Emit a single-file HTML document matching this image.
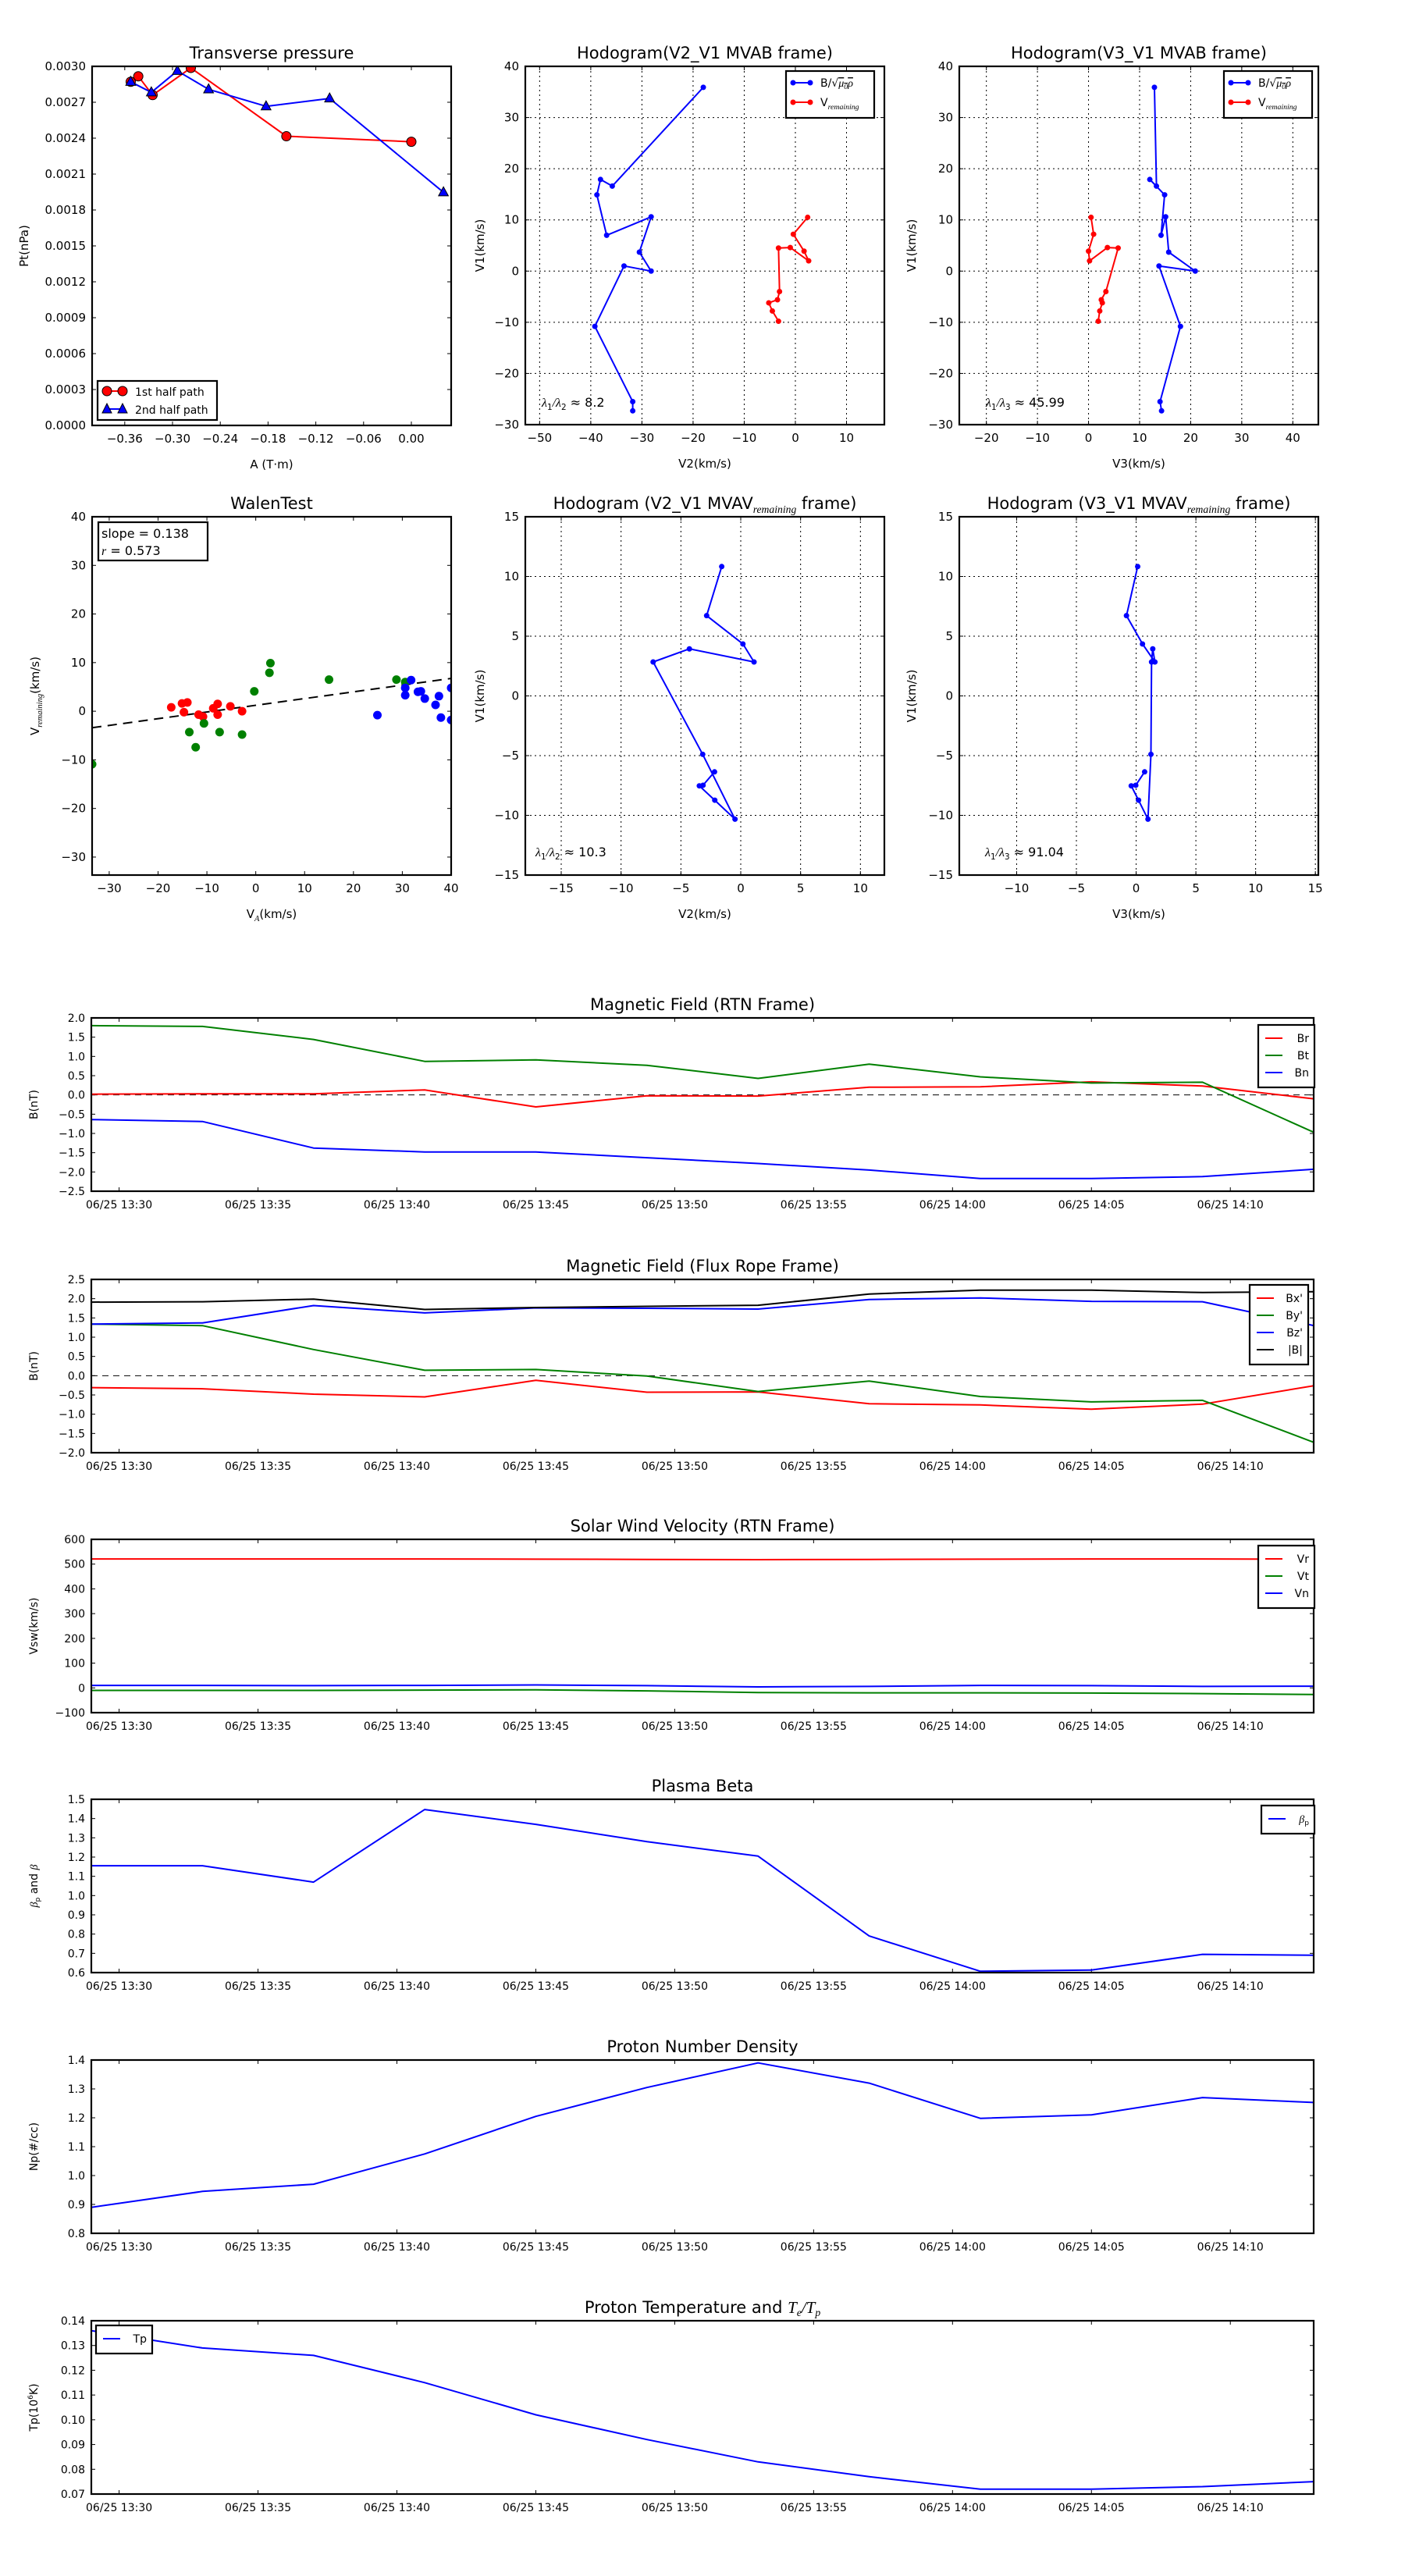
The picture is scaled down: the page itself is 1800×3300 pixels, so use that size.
<!DOCTYPE html>
<html><head><meta charset="utf-8"><title>Flux rope analysis</title>
<style>
html,body{margin:0;padding:0;background:#fff;}
svg{display:block;font-family:"DejaVu Sans","Liberation Sans",sans-serif;}
</style></head>
<body>
<svg id="fig" width="1800" height="3300" viewBox="0 0 1800 3300" xmlns="http://www.w3.org/2000/svg">
<rect x="0" y="0" width="1800" height="3300" fill="#fff"/>
</svg>
<script>
// ---------- DATA ----------
const tpA1 = [-0.3525,-0.343,-0.325,-0.277,-0.157,0.0];
const tpP1 = [0.002871,0.002917,0.00276,0.002987,0.002416,0.00237];
const tpA2 = [-0.3525,-0.3266,-0.2939,-0.2547,-0.1825,-0.1027,0.0403];
const tpP2 = [0.002871,0.002783,0.002962,0.002808,0.002666,0.002732,0.001948];

const hbV1 = [35.9,16.6,17.9,14.9,7.0,10.6,3.7,0.0,1.0,-10.8,-25.5,-27.3];
const hbV2 = [-18.0,-35.8,-38.1,-38.8,-36.9,-28.2,-30.5,-28.2,-33.5,-39.2,-31.8,-31.8];
const hbV3 = [12.9,13.3,12.0,14.9,14.2,15.1,15.7,20.9,13.8,18.0,14.0,14.3];
const hvV1 = [10.5,7.2,3.9,2.0,4.6,4.5,-4.0,-5.6,-6.2,-7.8,-9.8];
const hvV2 = [2.4,-0.4,1.7,2.6,-1.0,-3.3,-3.1,-3.5,-5.2,-4.5,-3.3];
const hvV3 = [0.5,1.0,0.0,0.2,3.7,5.8,3.4,2.5,2.7,2.2,1.9];

const mvV1 = [10.83,6.72,4.35,2.84,3.94,2.84,-4.89,-10.32,-8.73,-7.53,-7.48,-6.36];
const mvV2 = [-1.59,-2.85,0.18,1.11,-4.29,-7.32,-3.18,-0.48,-2.17,-3.46,-3.15,-2.19];
const mvV3 = [0.13,-0.81,0.53,1.57,1.39,1.29,1.24,0.99,0.2,-0.41,-0.03,0.71];

const wRedX = [-17.3,-15.1,-14.0,-14.7,-11.7,-10.8,-8.7,-7.8,-7.8,-5.2,-2.8];
const wRedY = [0.8,1.6,1.8,-0.2,-0.7,-1.1,0.6,1.5,-0.7,1.0,0.0];
const wGreenX = [-33.5,-13.6,-12.3,-10.6,-7.4,-2.8,-0.3,2.8,3.0,15.0,28.8,30.6];
const wGreenY = [-10.9,-4.3,-7.4,-2.5,-4.3,-4.8,4.1,7.9,9.9,6.5,6.5,6.0];
const wBlueX = [24.9,30.6,30.6,31.8,33.2,33.8,34.6,36.8,37.5,37.9,40.0,40.0];
const wBlueY = [-0.8,4.8,3.3,6.4,4.0,4.1,2.6,1.3,3.1,-1.3,4.8,-1.8];
const wSlope = 0.138;
const wIntercept = 1.22;

const timeMin = [0,4,8,12,16,20,24,28,32,36,40,44]; // minutes after 13:29
const timeTickMin = [1,6,11,16,21,26,31,36,41];
const timeTickLabels = ["06/25 13:30","06/25 13:35","06/25 13:40","06/25 13:45","06/25 13:50","06/25 13:55","06/25 14:00","06/25 14:05","06/25 14:10"];

const Br = [0.02,0.03,0.03,0.13,-0.31,-0.02,-0.03,0.2,0.21,0.34,0.23,-0.1];
const Bt = [1.8,1.78,1.44,0.87,0.91,0.77,0.43,0.8,0.47,0.31,0.33,-0.97];
const Bn = [-0.64,-0.69,-1.38,-1.48,-1.48,-1.63,-1.78,-1.95,-2.17,-2.17,-2.12,-1.93];

const Bx1 = [-0.31,-0.34,-0.48,-0.55,-0.12,-0.43,-0.42,-0.73,-0.76,-0.87,-0.74,-0.26];
const By1 = [1.34,1.3,0.68,0.14,0.16,-0.01,-0.41,-0.14,-0.54,-0.68,-0.64,-1.73];
const Bz1 = [1.34,1.37,1.82,1.63,1.76,1.75,1.73,1.98,2.02,1.93,1.92,1.30];
const Bmag = [1.91,1.92,1.99,1.72,1.77,1.80,1.83,2.12,2.22,2.22,2.16,2.18];

const Vr = [521,521,521,521,520,519,518,519,520,521,521,520];
const Vt = [-10,-10,-10,-9,-8,-12,-19,-20,-20,-21,-23,-27];
const Vn = [10,10,9,10,12,9,4,6,10,9,6,7];

const betaP = [1.155,1.155,1.07,1.447,1.37,1.28,1.205,0.79,0.607,0.613,0.695,0.690];
const Np = [0.89,0.945,0.97,1.075,1.205,1.305,1.39,1.32,1.198,1.21,1.27,1.253];
const Tp = [0.136,0.129,0.126,0.115,0.102,0.092,0.083,0.077,0.072,0.072,0.073,0.075];

// ---------- HELPERS ----------
const NS = 'http://www.w3.org/2000/svg';
const fig = document.getElementById('fig');
function mk(tag, attrs, parent){
  const e = document.createElementNS(NS, tag);
  for (const k in attrs) e.setAttribute(k, attrs[k]);
  (parent || fig).appendChild(e);
  return e;
}
function fmtNum(v, d){ const s = Math.abs(v).toFixed(d); return (v < -1e-12 ? '\u2212' : '') + s; }
function range(a, b, s){ const r=[]; for(let v=a; v<=b+s*1e-6; v+=s) r.push(+v.toFixed(10)); return r; }

function makeAxes(c){
  const g = mk('g', {});
  
  
  const sx = v => c.x + (v - c.xmin) / (c.xmax - c.xmin) * c.w;
  const sy = v => c.y + c.h - (v - c.ymin) / (c.ymax - c.ymin) * c.h;
  const fs = c.fs || 15;
  // grid
  if (c.grid){
    c.xticks.forEach(t => {
      const l = mk('line', {x1:sx(t), x2:sx(t), y1:c.y, y2:c.y+c.h, stroke:'#000', 'stroke-width':1, 'stroke-dasharray':'2,4'}, g);
      
      
    });
    c.yticks.forEach(t => {
      const l = mk('line', {x1:c.x, x2:c.x+c.w, y1:sy(t), y2:sy(t), stroke:'#000', 'stroke-width':1, 'stroke-dasharray':'2,4'}, g);
      
      
    });
  }
  // ticks
  c.xticks.forEach((t, i) => {
    const X = sx(t);
    mk('line', {x1:X, x2:X, y1:c.y+c.h, y2:c.y+c.h-5, stroke:'#000', 'stroke-width':1}, g);
    mk('line', {x1:X, x2:X, y1:c.y, y2:c.y+5, stroke:'#000', 'stroke-width':1}, g);
    const tx = mk('text', {x:X, y:c.y+c.h+22, 'text-anchor':'middle', 'font-size':fs}, g);
    tx.textContent = c.xlabels[i];
    
    
  });
  c.yticks.forEach((t, i) => {
    const Y = sy(t);
    mk('line', {x1:c.x, x2:c.x+5, y1:Y, y2:Y, stroke:'#000', 'stroke-width':1}, g);
    mk('line', {x1:c.x+c.w, x2:c.x+c.w-5, y1:Y, y2:Y, stroke:'#000', 'stroke-width':1}, g);
    const tx = mk('text', {x:c.x-8, y:Y+5, 'text-anchor':'end', 'font-size':fs}, g);
    tx.textContent = c.ylabels[i];
    
    
  });
  // clip
  const cid = 'clip-' + c.name;
  const cp = mk('clipPath', {id:cid}, g);
  mk('rect', {x:c.x, y:c.y, width:c.w, height:c.h}, cp);
  const plot = mk('g', {'clip-path':'url(#'+cid+')'}, g);
  
  
  // title
  if (c.title){
    const t = mk('text', {x:c.x+c.w/2, y:c.y-10, 'text-anchor':'middle', 'font-size':c.tfs||21}, g);
    t.innerHTML = c.title;
    
    
  }
  if (c.xlabel){
    const t = mk('text', {x:c.x+c.w/2, y:c.y+c.h+55, 'text-anchor':'middle', 'font-size':fs}, g);
    t.innerHTML = c.xlabel;
    
    
  }
  if (c.ylabel){
    const yx = c.ylx, yy = c.y + c.h/2;
    const t = mk('text', {x:yx, y:yy, 'text-anchor':'middle', 'font-size':c.ylfs||fs, transform:'rotate(-90 '+yx+' '+yy+')'}, g);
    t.innerHTML = c.ylabel;
    
    
  }
  return {g, plot, sx, sy, c};
}
function frame(ax){
  const r = mk('rect', {x:ax.c.x, y:ax.c.y, width:ax.c.w, height:ax.c.h, fill:'none', stroke:'#000', 'stroke-width':2.2}, ax.g);
  
  
}
function line(ax, xs, ys, color, name, width){
  const pts = xs.map((x, i) => ax.sx(x).toFixed(1) + ',' + ax.sy(ys[i]).toFixed(1)).join(' ');
  const p = mk('polyline', {points:pts, fill:'none', stroke:color, 'stroke-width':width||2, 'stroke-linejoin':'round'}, ax.plot);
  
  
  return p;
}
function dots(ax, xs, ys, color, r, name, edge){
  xs.forEach((x, i) => {
    const d = mk('circle', {cx:ax.sx(x), cy:ax.sy(ys[i]), r:r, fill:color, stroke:edge||'none', 'stroke-width':1}, ax.plot);
    
    
  });
}
function tris(ax, xs, ys, color, s, name){
  xs.forEach((x, i) => {
    const X = ax.sx(x), Y = ax.sy(ys[i]);
    const d = mk('polygon', {points:`${X},${Y-s} ${X-s*0.9},${Y+s*0.65} ${X+s*0.9},${Y+s*0.65}`, fill:color, stroke:'#000', 'stroke-width':1}, ax.plot);
    
    
  });
}
function legendBox(x, y, w, h, name){
  const g = mk('g', {});
  
  
  mk('rect', {x:x, y:y, width:w, height:h, fill:'#fff', stroke:'#000', 'stroke-width':2.2}, g);
  return g;
}
const SUB = (t) => `<tspan font-family="Liberation Serif, DejaVu Serif, serif" font-style="italic" font-size="0.65em" dy="5">${t}</tspan><tspan dy="-5"> </tspan>`;

// ---------- TRANSVERSE PRESSURE ----------
(function(){
  const xt = range(-0.36, 0.0, 0.06), yt = range(0, 0.003, 0.0003);
  const ax = makeAxes({name:'transverse-pressure-chart', x:118, y:85, w:460, h:460, xmin:-0.401, xmax:0.05, ymin:0, ymax:0.003,
    xticks:xt, xlabels:xt.map(v=>fmtNum(v,2)), yticks:yt, ylabels:yt.map(v=>fmtNum(v,4)),
    title:'Transverse pressure', xlabel:'A (T·m)', ylabel:'Pt(nPa)', ylx:36, ylfs:15});
  line(ax, tpA1, tpP1, '#ff0000', 'first-half-path-line');
  line(ax, tpA2, tpP2, '#0000ff', 'second-half-path-line');
  dots(ax, tpA1, tpP1, '#ff0000', 6, 'first-half-point', '#000');
  tris(ax, tpA2, tpP2, '#0000ff', 7, 'second-half-point');
  frame(ax);
  const lg = legendBox(125, 488, 153, 50, 'legend');
  mk('line', {x1:137, x2:157, y1:501, y2:501, stroke:'#ff0000', 'stroke-width':2}, lg);
  mk('circle', {cx:137, cy:501, r:6, fill:'#ff0000', stroke:'#000'}, lg);
  mk('circle', {cx:157, cy:501, r:6, fill:'#ff0000', stroke:'#000'}, lg);
  let t = mk('text', {x:173, y:507, 'font-size':14}, lg); t.textContent = '1st half path';
  
  
  mk('line', {x1:137, x2:157, y1:524, y2:524, stroke:'#0000ff', 'stroke-width':2}, lg);
  mk('polygon', {points:'137,517 131,529 143,529', fill:'#0000ff', stroke:'#000'}, lg);
  mk('polygon', {points:'157,517 151,529 163,529', fill:'#0000ff', stroke:'#000'}, lg);
  t = mk('text', {x:173, y:530, 'font-size':14}, lg); t.textContent = '2nd half path';
  
  
})();

// ---------- HODOGRAM HELPERS ----------
function hodoLegend(x, y, name){
  const lg = legendBox(x, y, 113, 60, name);
  mk('line', {x1:x+9, x2:x+31, y1:y+15, y2:y+15, stroke:'#0000ff', 'stroke-width':2}, lg);
  mk('circle', {cx:x+9, cy:y+15, r:3.5, fill:'#0000ff'}, lg);
  mk('circle', {cx:x+31, cy:y+15, r:3.5, fill:'#0000ff'}, lg);
  let t = mk('text', {x:x+44, y:y+20, 'font-size':14}, lg);
  t.innerHTML = 'B/√<tspan font-family="Liberation Serif, serif" font-style="italic" text-decoration="overline">μ<tspan font-size="0.7em" dy="3">0</tspan><tspan dy="-3">ρ</tspan></tspan>';
  
  
  mk('line', {x1:x+9, x2:x+31, y1:y+40, y2:y+40, stroke:'#ff0000', 'stroke-width':2}, lg);
  mk('circle', {cx:x+9, cy:y+40, r:3.5, fill:'#ff0000'}, lg);
  mk('circle', {cx:x+31, cy:y+40, r:3.5, fill:'#ff0000'}, lg);
  t = mk('text', {x:x+44, y:y+45, 'font-size':14}, lg);
  t.innerHTML = 'V<tspan font-family="Liberation Serif, serif" font-style="italic" font-size="0.7em" dy="4">remaining</tspan>';
  
  
}
function lambdaText(ax, x, y, sub, val){
  const t = mk('text', {x:x, y:y, 'font-size':16}, ax.g);
  t.innerHTML = `<tspan font-family="Liberation Serif, serif" font-style="italic">λ</tspan><tspan font-size="0.65em" dy="4">1</tspan><tspan dy="-4" font-family="Liberation Serif, serif" font-style="italic">/λ</tspan><tspan font-size="0.65em" dy="4">${sub}</tspan><tspan dy="-4"> ≈ ${val}</tspan>`;
  
  
}

// Hodogram V2-V1 MVAB
(function(){
  const xt = range(-50, 10, 10), yt = range(-30, 40, 10);
  const ax = makeAxes({name:'hodogram-v2-v1-mvab', x:673, y:85, w:460, h:459, xmin:-52.8, xmax:17.4, ymin:-30, ymax:40, grid:true,
    xticks:xt, xlabels:xt.map(v=>fmtNum(v,0)), yticks:yt, ylabels:yt.map(v=>fmtNum(v,0)),
    title:'Hodogram(V2_V1 MVAB frame)', xlabel:'V2(km/s)', ylabel:'V1(km/s)', ylx:620});
  line(ax, hbV2, hbV1, '#0000ff', 'b-hodogram-line');
  dots(ax, hbV2, hbV1, '#0000ff', 3.5, 'b-hodogram-point');
  line(ax, hvV2, hvV1, '#ff0000', 'v-hodogram-line');
  dots(ax, hvV2, hvV1, '#ff0000', 3.5, 'v-hodogram-point');
  frame(ax);
  hodoLegend(1007, 91, 'legend');
  lambdaText(ax, 694, 521, '2', '8.2');
})();
// Hodogram V3-V1 MVAB
(function(){
  const xt = range(-20, 40, 10), yt = range(-30, 40, 10);
  const ax = makeAxes({name:'hodogram-v3-v1-mvab', x:1229, y:85, w:460, h:459, xmin:-25.3, xmax:45.0, ymin:-30, ymax:40, grid:true,
    xticks:xt, xlabels:xt.map(v=>fmtNum(v,0)), yticks:yt, ylabels:yt.map(v=>fmtNum(v,0)),
    title:'Hodogram(V3_V1 MVAB frame)', xlabel:'V3(km/s)', ylabel:'V1(km/s)', ylx:1173});
  line(ax, hbV3, hbV1, '#0000ff', 'b-hodogram-line');
  dots(ax, hbV3, hbV1, '#0000ff', 3.5, 'b-hodogram-point');
  line(ax, hvV3, hvV1, '#ff0000', 'v-hodogram-line');
  dots(ax, hvV3, hvV1, '#ff0000', 3.5, 'v-hodogram-point');
  frame(ax);
  hodoLegend(1568, 91, 'legend');
  lambdaText(ax, 1263, 521, '3', '45.99');
})();

// ---------- WALEN TEST ----------
(function(){
  const xt = range(-30, 40, 10), yt = range(-30, 40, 10);
  const ax = makeAxes({name:'walen-test-chart', x:118, y:662, w:460, h:459, xmin:-33.5, xmax:40, ymin:-33.7, ymax:40,
    xticks:xt, xlabels:xt.map(v=>fmtNum(v,0)), yticks:yt, ylabels:yt.map(v=>fmtNum(v,0)),
    title:'WalenTest', xlabel:'V<tspan font-family="Liberation Serif, serif" font-style="italic" font-size="0.7em" dy="4">A</tspan><tspan dy="-4">(km/s)</tspan>',
    ylabel:'V<tspan font-family="Liberation Serif, serif" font-style="italic" font-size="0.7em" dy="4">remaining</tspan><tspan dy="-4">(km/s)</tspan>', ylx:50});
  const fx = [-33.5, 40];
  const fl = line(ax, fx, fx.map(v => wSlope*v + wIntercept), '#000', 'fit-line', 2);
  fl.setAttribute('stroke-dasharray', '12,8');
  dots(ax, wRedX, wRedY, '#ff0000', 5.5, 'walen-point-red');
  dots(ax, wGreenX, wGreenY, '#008000', 5.5, 'walen-point-green');
  dots(ax, wBlueX, wBlueY, '#0000ff', 5.5, 'walen-point-blue');
  frame(ax);
  const lg = legendBox(126, 669, 140, 49, 'fit-stats-box');
  let t = mk('text', {x:130, y:689, 'font-size':16}, lg); t.textContent = 'slope = ' + wSlope.toFixed(3);
  
  
  t = mk('text', {x:130, y:711, 'font-size':16}, lg);
  t.innerHTML = '<tspan font-family="Liberation Serif, serif" font-style="italic">r</tspan> = 0.573';
  
  
})();

// Hodogram V2-V1 MVAV
(function(){
  const xt = range(-15, 10, 5), yt = range(-15, 15, 5);
  const ax = makeAxes({name:'hodogram-v2-v1-mvav', x:673, y:662, w:460, h:459, xmin:-18, xmax:12, ymin:-15, ymax:15, grid:true,
    xticks:xt, xlabels:xt.map(v=>fmtNum(v,0)), yticks:yt, ylabels:yt.map(v=>fmtNum(v,0)),
    title:'Hodogram (V2_V1 MVAV'+SUB('remaining')+'frame)', xlabel:'V2(km/s)', ylabel:'V1(km/s)', ylx:620});
  line(ax, mvV2, mvV1, '#0000ff', 'hodogram-line');
  dots(ax, mvV2, mvV1, '#0000ff', 3.5, 'hodogram-point');
  frame(ax);
  lambdaText(ax, 686, 1097, '2', '10.3');
})();
// Hodogram V3-V1 MVAV
(function(){
  const xt = range(-10, 15, 5), yt = range(-15, 15, 5);
  const ax = makeAxes({name:'hodogram-v3-v1-mvav', x:1229, y:662, w:460, h:459, xmin:-14.8, xmax:15.25, ymin:-15, ymax:15, grid:true,
    xticks:xt, xlabels:xt.map(v=>fmtNum(v,0)), yticks:yt, ylabels:yt.map(v=>fmtNum(v,0)),
    title:'Hodogram (V3_V1 MVAV'+SUB('remaining')+'frame)', xlabel:'V3(km/s)', ylabel:'V1(km/s)', ylx:1173});
  line(ax, mvV3, mvV1, '#0000ff', 'hodogram-line');
  dots(ax, mvV3, mvV1, '#0000ff', 3.5, 'hodogram-point');
  frame(ax);
  lambdaText(ax, 1262, 1097, '3', '91.04');
})();

// ---------- TIME SERIES ----------
function tsAxes(name, top, ymin, ymax, ystep, dec, title, ylabel){
  const yt = range(ymin, ymax, ystep);
  return makeAxes({name:name, x:117, y:top, w:1566, h:222, xmin:0, xmax:44, ymin:ymin, ymax:ymax,
    xticks:timeTickMin, xlabels:timeTickLabels, yticks:yt, ylabels:yt.map(v=>fmtNum(v,dec)),
    title:title, ylabel:ylabel, ylx:48, fs:14, ylfs:14, tfs:21});
}
function tsLegend(x, y, w, entries, name){
  const lg = legendBox(x, y, w, 14 + entries.length*22, name);
  entries.forEach((e, i) => {
    const yy = y + 17 + i*22;
    mk('line', {x1:x+9, x2:x+31, y1:yy, y2:yy, stroke:e[1], 'stroke-width':2}, lg);
    const t = mk('text', {x:x+w-7, y:yy+5, 'text-anchor':'end', 'font-size':14}, lg);
    t.innerHTML = e[0];
    
    
  });
}
function zeroLine(ax){
  const l = mk('line', {x1:ax.sx(0), x2:ax.sx(44), y1:ax.sy(0), y2:ax.sy(0), stroke:'#000', 'stroke-width':1, 'stroke-dasharray':'8,6'}, ax.plot);
  
  
}

(function(){
  const ax = tsAxes('magnetic-field-rtn-chart', 1304, -2.5, 2.0, 0.5, 1, 'Magnetic Field (RTN Frame)', 'B(nT)');
  zeroLine(ax);
  line(ax, timeMin, Br, '#ff0000', 'br-line');
  line(ax, timeMin, Bt, '#008000', 'bt-line');
  line(ax, timeMin, Bn, '#0000ff', 'bn-line');
  frame(ax);
  tsLegend(1612, 1313, 72, [['Br','#ff0000'],['Bt','#008000'],['Bn','#0000ff']], 'legend');
})();
(function(){
  const ax = tsAxes('magnetic-field-flux-rope-chart', 1639, -2.0, 2.5, 0.5, 1, 'Magnetic Field (Flux Rope Frame)', 'B(nT)');
  zeroLine(ax);
  line(ax, timeMin, Bx1, '#ff0000', 'bx-line');
  line(ax, timeMin, By1, '#008000', 'by-line');
  line(ax, timeMin, Bz1, '#0000ff', 'bz-line');
  line(ax, timeMin, Bmag, '#000000', 'b-magnitude-line');
  frame(ax);
  tsLegend(1601, 1646, 75, [["Bx'",'#ff0000'],["By'",'#008000'],["Bz'",'#0000ff'],['|B|','#000']], 'legend');
})();
(function(){
  const ax = tsAxes('solar-wind-velocity-chart', 1972, -100, 600, 100, 0, 'Solar Wind Velocity (RTN Frame)', 'Vsw(km/s)');
  line(ax, timeMin, Vr, '#ff0000', 'vr-line');
  line(ax, timeMin, Vt, '#008000', 'vt-line');
  line(ax, timeMin, Vn, '#0000ff', 'vn-line');
  frame(ax);
  tsLegend(1612, 1980, 72, [['Vr','#ff0000'],['Vt','#008000'],['Vn','#0000ff']], 'legend');
})();
(function(){
  const ax = tsAxes('plasma-beta-chart', 2305, 0.6, 1.5, 0.1, 1, 'Plasma Beta',
    '<tspan font-family="Liberation Serif, serif" font-style="italic">β</tspan><tspan font-size="0.65em" dy="3">p</tspan><tspan dy="-3"> and </tspan><tspan font-family="Liberation Serif, serif" font-style="italic">β</tspan>');
  line(ax, timeMin, betaP, '#0000ff', 'beta-p-line');
  frame(ax);
  tsLegend(1616, 2313, 68, [['<tspan font-family="Liberation Serif, serif" font-style="italic">β</tspan><tspan font-size="0.65em" dy="3">p</tspan>','#0000ff']], 'legend');
})();
(function(){
  const ax = tsAxes('proton-density-chart', 2639, 0.8, 1.4, 0.1, 1, 'Proton Number Density', 'Np(#/cc)');
  line(ax, timeMin, Np, '#0000ff', 'np-line');
  frame(ax);
})();
(function(){
  const ax = tsAxes('proton-temperature-chart', 2973, 0.07, 0.14, 0.01, 2,
    'Proton Temperature and <tspan font-family="Liberation Serif, serif" font-style="italic">T</tspan><tspan font-family="Liberation Serif, serif" font-style="italic" font-size="0.65em" dy="4">e</tspan><tspan dy="-4" font-family="Liberation Serif, serif" font-style="italic">/T</tspan><tspan font-family="Liberation Serif, serif" font-style="italic" font-size="0.65em" dy="4">p</tspan>',
    'Tp(10<tspan font-size="0.65em" dy="-6">6</tspan><tspan dy="6">K)</tspan>');
  line(ax, timeMin, Tp, '#0000ff', 'tp-line');
  frame(ax);
  tsLegend(123, 2979, 72, [['Tp','#0000ff']], 'legend');
})();
</script>
</body></html>
